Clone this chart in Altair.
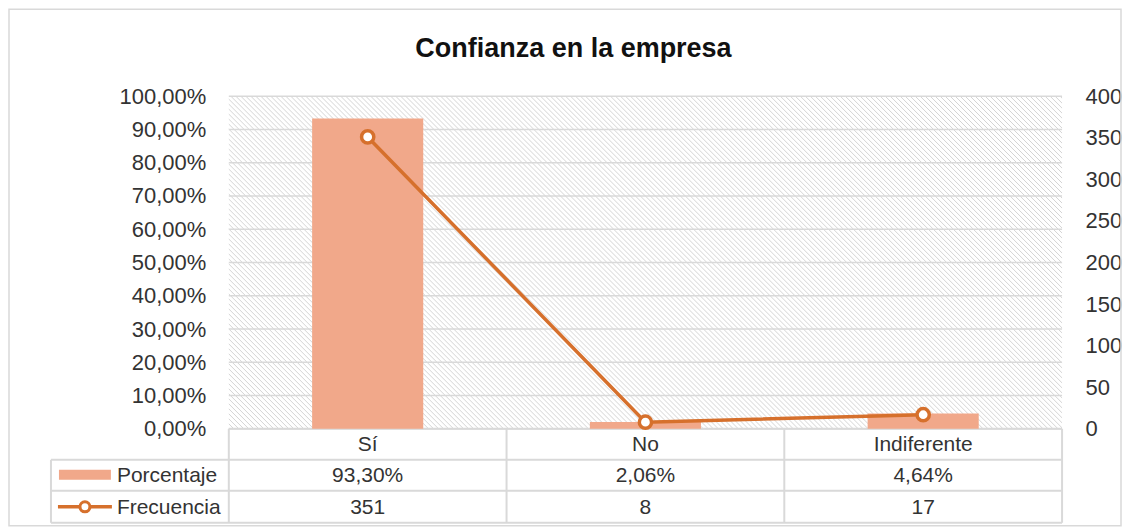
import altair as alt
import pandas as pd
import numpy as np

# ---- data ----
categories = ["Sí", "No", "Indiferente"]
porcentaje = [0.9330, 0.0206, 0.0464]
frecuencia = [351, 8, 17]
pct_ticks = [0.0, 0.1, 0.2, 0.3, 0.4, 0.5, 0.6, 0.7, 0.8, 0.9, 1.0]
freq_ticks = [0, 50, 100, 150, 200, 250, 300, 350, 400]
series_names = ["Porcentaje", "Frecuencia"]
title_text = "Confianza en la empresa"

# ---- style ----
W, H = 834, 333
FONT = "Liberation Sans"
BAR = "#F1A88A"
LINE = "#D6702C"
GRID = "#D9D9D9"
HATCH = "#D4D4D4"
TXT = "#333333"
FS = 21

df = pd.DataFrame({"cat": categories, "pct": porcentaje, "freq": frecuencia})
df["pct_label"] = [f"{v*100:.2f}%".replace(".", ",") for v in porcentaje]
df["freq_label"] = [str(v) for v in frecuencia]

one = pd.DataFrame({"k": [0]})

xenc = alt.X("cat:N", sort=categories,
             scale=alt.Scale(paddingInner=0, paddingOuter=0), axis=None)

# outer chart border
border = alt.Chart(one).mark_rect(fill="white", fillOpacity=0, stroke=GRID, strokeWidth=1.5).encode(
    x=alt.value(-220), x2=alt.value(893), y=alt.value(-87), y2=alt.value(430))

# hatch background of plot area (decoration)
hx = np.arange(-H, W + 5, 5)
hatch_df = pd.DataFrame({"hx": hx, "hx2": hx + H, "hy": 0, "hy2": H})
hatch = alt.Chart(hatch_df).mark_rule(clip=True, stroke=HATCH, strokeWidth=1).encode(
    x=alt.X("hx:Q", scale=None, axis=None), x2="hx2:Q",
    y=alt.Y("hy:Q", scale=None, axis=None), y2="hy2:Q")

# gridlines on the percentage scale
grid_df = pd.DataFrame({"v": pct_ticks})
grid = alt.Chart(grid_df).mark_rule(stroke=GRID, strokeWidth=1.5).encode(
    y=alt.Y("v:Q", scale=alt.Scale(domain=[0, 1]), axis=None),
    x=alt.value(0), x2=alt.value(W))

# bars
bars = alt.Chart(df).mark_bar(color=BAR, width=alt.RelativeBandSize(0.4)).encode(
    x=xenc,
    y=alt.Y("pct:Q", scale=alt.Scale(domain=[0, 1]),
            axis=alt.Axis(orient="left", values=pct_ticks, grid=False, domain=False, ticks=False,
                          labelPadding=23, labelFontSize=22, labelFont=FONT, labelColor=TXT,
                          labelExpr="replace(format(datum.value, '.2%'), '.', ',')", title=None)))

# line with markers
line = alt.Chart(df).mark_line(color=LINE, strokeWidth=3.5,
                               point=alt.OverlayMarkDef(filled=True, fill="white", stroke=LINE,
                                                        strokeWidth=3.5, size=150, opacity=1)).encode(
    x=xenc,
    y=alt.Y("freq:Q", scale=alt.Scale(domain=[0, 400]),
            axis=alt.Axis(orient="right", values=freq_ticks, grid=False, domain=False, ticks=False,
                          labelPadding=23, labelFontSize=22, labelFont=FONT, labelColor=TXT,
                          title=None)))

# table lines
tl = pd.DataFrame({
    "x":  [0, -178, -178, -178, -178, 0, 278, 556, 834],
    "x2": [W, W, W, W, -178, 0, 278, 556, 834],
    "y":  [H, 364, 395, 427, 364, H, H, H, H],
    "y2": [H, 364, 395, 427, 427, 427, 427, 427, 427],
})
table_lines = alt.Chart(tl).mark_rule(stroke=GRID, strokeWidth=2).encode(
    x=alt.X("x:Q", scale=None, axis=None), x2="x2:Q",
    y=alt.Y("y:Q", scale=None, axis=None), y2="y2:Q")

def ttext(field, ypix):
    return alt.Chart(df).mark_text(font=FONT, fontSize=FS, color=TXT, baseline="middle").encode(
        x=xenc, y=alt.value(ypix), text=f"{field}:N")

cat_text = ttext("cat", 349)
pct_text = ttext("pct_label", 380)
freq_text = ttext("freq_label", 412)

# legend keys in the table
swatch = alt.Chart(one).mark_rect(color=BAR).encode(
    x=alt.value(-170), x2=alt.value(-118), y=alt.value(374), y2=alt.value(384))
key_line = alt.Chart(one).mark_rule(color=LINE, strokeWidth=3.5).encode(
    x=alt.value(-171), x2=alt.value(-117), y=alt.value(411))
key_pt = alt.Chart(one).mark_point(filled=True, fill="white", stroke=LINE, strokeWidth=3,
                                   size=100, opacity=1).encode(
    x=alt.value(-144), y=alt.value(411))
leg1 = alt.Chart(one).mark_text(font=FONT, fontSize=FS, color=TXT, align="left", baseline="middle").encode(
    x=alt.value(-112), y=alt.value(380), text=alt.value(series_names[0]))
leg2 = alt.Chart(one).mark_text(font=FONT, fontSize=FS, color=TXT, align="left", baseline="middle").encode(
    x=alt.value(-112), y=alt.value(412), text=alt.value(series_names[1]))

title = alt.Chart(one).mark_text(font=FONT, fontSize=27, fontWeight="bold", color="#111111",
                                 baseline="middle").encode(
    x=alt.value(345), y=alt.value(-47), text=alt.value(title_text))

chart = alt.layer(
    border, hatch, grid, table_lines, bars, line,
    cat_text, pct_text, freq_text, swatch, key_line, key_pt, leg1, leg2, title
).resolve_scale(y="independent").properties(
    width=W, height=H, padding={"left": 0, "top": 0, "right": 0, "bottom": 0}
).configure_view(stroke=None)

chart.save("out.html", embed_options={"renderer": "svg", "actions": False})
